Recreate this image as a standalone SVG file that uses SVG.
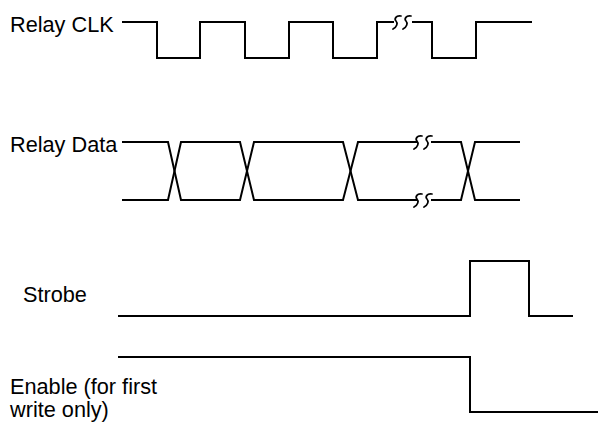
<svg xmlns="http://www.w3.org/2000/svg" width="599" height="423" viewBox="0 0 599 423">
<style>
.lbl{font-family:"Liberation Sans",Arial,sans-serif;font-size:21.7px;fill:#000}
.w{fill:none;stroke:#000;stroke-width:2;stroke-linejoin:miter}
.sq{fill:none;stroke:#000;stroke-width:1.7;stroke-linecap:round}
</style>
<defs>
<path id="brk" class="sq" d="M8,-6 C3,-7 1,-3 3,-1 C5,1 4,5 0,7 M18,-6 C13,-7 11,-3 13,-1 C15,1 14,5 10,7"/>
</defs>
<rect width="599" height="423" fill="#fff"/>
<g id="clk">
<text class="lbl" x="10" y="32">Relay CLK</text>
</g>
<g id="data">
<text class="lbl" x="10" y="152">Relay Data</text>
</g>
<g id="strobe">
<text class="lbl" x="23" y="302">Strobe</text>
</g>
<g id="enable">
<text class="lbl" x="10" y="394">Enable (for first</text>
<text class="lbl" x="10" y="417">write only)</text>
</g>
<g id="waveforms">
<path class="w" d="M122,22 H157 V58 H200 V22 H245 V58 H289 V22 H333 V58 H377 V22 H394 M412,22 H432 V58 H476 V22 H532"/>
<use href="#brk" x="393" y="22"/>
<path class="w" d="M122,142 H168 L181,200 H240 L254,142 H343 L358,200 H417 M431,200 H461 L475,142 H520"/>
<path class="w" d="M122,200 H168 L181,142 H240 L254,200 H343 L358,142 H417 M431,142 H461 L475,200 H520"/>
<use href="#brk" x="414" y="142"/>
<use href="#brk" x="414" y="200"/>
<path class="w" d="M118,316 H470 V261 H529 V316 H573"/>
<path class="w" d="M118,357 H470 V412 H598"/>
</g>
</svg>
